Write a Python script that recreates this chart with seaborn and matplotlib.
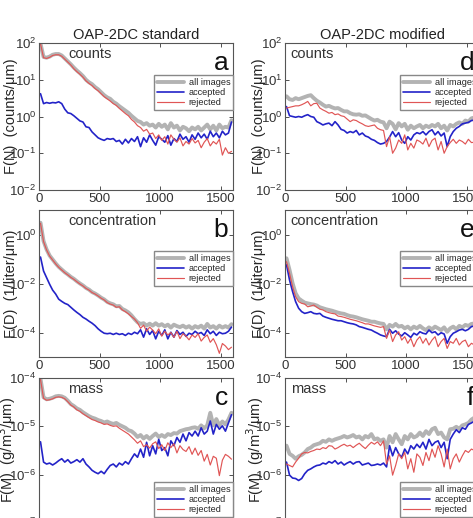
import numpy as np
import pandas as pd
import seaborn as sns
import matplotlib.pyplot as plt
from matplotlib.ticker import NullLocator

sns.set_theme(style="ticks")
plt.rcParams['font.family'] = ['Liberation Sans', 'DejaVu Sans']

# -----------------------------
# data (log10 of F), 25 um size bins
# -----------------------------
size_bins = np.arange(12.5, 1600, 25)

# a) counts, OAP-2DC standard
std_counts_all = [1.98, 1.62, 1.60, 1.63, 1.68, 1.70, 1.70, 1.66, 1.58, 1.50, 1.42, 1.33, 1.25, 1.18, 1.10, 1.00,
                  0.93, 0.88, 0.80, 0.74, 0.66, 0.58, 0.52, 0.48, 0.40, 0.35, 0.28, 0.22, 0.16, 0.10, 0.02, -0.05,
                  -0.12, -0.15, -0.22, -0.18, -0.25, -0.22, -0.30, -0.20, -0.28, -0.22, -0.35, -0.18, -0.30, -0.25,
                  -0.38, -0.28, -0.32, -0.40, -0.30, -0.35, -0.28, -0.38, -0.30, -0.22, -0.35, -0.25, -0.38, -0.22,
                  -0.32, -0.28, -0.30, -0.10]
std_counts_acc = [0.62, 0.35, 0.38, 0.36, 0.38, 0.37, 0.40, 0.35, 0.20, 0.10, 0.08, 0.02, -0.05, -0.12, -0.15, -0.28,
                  -0.30, -0.42, -0.50, -0.58, -0.62, -0.65, -0.60, -0.62, -0.60, -0.68, -0.65, -0.75, -0.62, -0.72,
                  -0.60, -0.68, -0.55, -0.82, -0.58, -0.70, -0.50, -0.65, -0.78, -0.55, -0.62, -0.70, -0.52, -0.78,
                  -0.60, -0.68, -0.48, -0.62, -0.55, -0.70, -0.50, -0.62, -0.45, -0.58, -0.48, -0.62, -0.40, -0.55,
                  -0.45, -0.58, -0.40, -0.50, -0.45, -0.15]
std_counts_rej = [1.98, 1.60, 1.58, 1.61, 1.66, 1.68, 1.68, 1.64, 1.56, 1.48, 1.40, 1.30, 1.22, 1.15, 1.07, 0.97,
                  0.90, 0.84, 0.76, 0.70, 0.62, 0.54, 0.48, 0.42, 0.35, 0.30, 0.22, 0.15, 0.08, 0.02, -0.08, -0.15,
                  -0.25, -0.30, -0.40, -0.35, -0.48, -0.45, -0.60, -0.50, -0.65, -0.55, -0.75, -0.50, -0.62, -0.70,
                  -0.58, -0.80, -0.68, -0.75, -0.60, -0.72, -0.65, -0.85, -0.70, -0.60, -0.80, -0.68, -0.75, -0.62,
                  -1.05, -0.85, -1.00, -0.95]

# d) counts, OAP-2DC modified
mod_counts_all = [0.55, 0.47, 0.45, 0.50, 0.47, 0.50, 0.53, 0.56, 0.58, 0.50, 0.43, 0.38, 0.32, 0.27, 0.29, 0.25,
                  0.22, 0.23, 0.18, 0.14, 0.14, 0.09, 0.06, 0.05, 0.06, 0.02, 0.03, -0.02, -0.07, -0.11, -0.09, -0.14,
                  -0.16, -0.32, -0.14, -0.20, -0.35, -0.18, -0.27, -0.20, -0.36, -0.25, -0.32, -0.27, -0.23, -0.32,
                  -0.25, -0.29, -0.23, -0.27, -0.20, -0.32, -0.25, -0.38, -0.23, -0.27, -0.20, -0.16, -0.20, -0.11,
                  -0.14, -0.05, -0.03, 0.00]
mod_counts_acc = [0.27, 0.02, 0.00, -0.02, 0.00, -0.02, 0.02, 0.05, 0.00, -0.02, -0.14, -0.18, -0.23, -0.20, -0.18,
                  -0.25, -0.14, -0.23, -0.35, -0.38, -0.45, -0.41, -0.44, -0.38, -0.50, -0.45, -0.53, -0.56, -0.62,
                  -0.65, -0.71, -0.75, -0.73, -0.68, -0.56, -0.41, -0.55, -0.44, -0.64, -0.73, -0.55, -0.64, -0.50,
                  -0.44, -0.47, -0.41, -0.50, -0.41, -0.36, -0.50, -0.41, -0.53, -0.45, -0.82, -0.55, -0.41, -0.32,
                  -0.27, -0.20, -0.18, -0.16, -0.11, -0.10, -0.08]
mod_counts_rej = [0.23, 0.25, 0.27, 0.29, 0.29, 0.32, 0.36, 0.41, 0.29, 0.35, 0.36, 0.23, 0.18, 0.14, 0.09, 0.11,
                  0.05, 0.07, 0.02, 0.00, -0.07, -0.14, -0.09, -0.11, -0.16, -0.20, -0.25, -0.27, -0.25, -0.23,
                  -0.32, -0.36, -0.38, -0.82, -0.55, -1.00, -0.86, -0.64, -0.73, -0.50, -0.91, -0.73, -0.86, -0.64,
                  -0.68, -0.75, -0.59, -0.82, -0.65, -0.59, -0.91, -0.68, -1.00, -0.82, -0.71, -0.62, -0.73, -0.64,
                  -0.68, -0.75, -0.62, -0.71, -0.70, -0.72]

# b) concentration, OAP-2DC standard
std_conc_all = [0.48, -0.27, -0.61, -0.86, -1.02, -1.18, -1.32, -1.43, -1.54, -1.63, -1.73, -1.81, -1.91, -2.00,
                -2.08, -2.18, -2.25, -2.35, -2.41, -2.49, -2.58, -2.65, -2.75, -2.81, -2.85, -2.93, -2.92, -3.04,
                -3.10, -3.18, -3.30, -3.45, -3.58, -3.65, -3.62, -3.72, -3.64, -3.72, -3.62, -3.72, -3.66, -3.75,
                -3.68, -3.80, -3.68, -3.74, -3.78, -3.72, -3.80, -3.74, -3.84, -3.74, -3.80, -3.72, -3.84, -3.65,
                -3.80, -3.74, -3.84, -3.72, -3.80, -3.74, -3.80, -3.66]
std_conc_acc = [-0.92, -1.49, -1.76, -2.03, -2.27, -2.43, -2.64, -2.73, -2.81, -2.86, -2.97, -3.08, -3.18, -3.27,
                -3.38, -3.45, -3.54, -3.62, -3.72, -3.85, -3.95, -4.03, -4.05, -4.03, -4.08, -4.03, -4.08, -4.05,
                -4.12, -4.03, -4.08, -3.99, -4.05, -3.89, -4.19, -3.85, -4.08, -3.92, -4.26, -3.95, -4.12, -3.89,
                -4.26, -3.99, -4.19, -3.92, -4.08, -3.99, -4.16, -4.03, -4.08, -3.95, -4.05, -4.00, -4.12, -3.89,
                -4.05, -3.95, -4.12, -3.99, -4.05, -4.03, -3.95, -3.78]
std_conc_rej = [0.46, -0.29, -0.63, -0.88, -1.04, -1.20, -1.34, -1.45, -1.56, -1.65, -1.75, -1.83, -1.93, -2.02,
                -2.10, -2.20, -2.27, -2.37, -2.43, -2.51, -2.60, -2.67, -2.78, -2.84, -2.88, -2.97, -2.95, -3.08,
                -3.15, -3.24, -3.35, -3.45, -3.60, -3.83, -3.70, -3.95, -3.78, -3.90, -4.05, -3.85, -4.15, -3.95,
                -4.10, -4.00, -4.20, -3.95, -4.25, -4.05, -4.15, -4.30, -4.10, -4.20, -4.05, -4.35, -4.20, -4.10,
                -4.40, -4.25, -4.50, -4.85, -4.45, -4.55, -4.70, -4.60]

# e) concentration, OAP-2DC modified
mod_conc_all = [-0.97, -1.45, -1.99, -2.40, -2.61, -2.70, -2.78, -2.81, -2.84, -2.86, -2.90, -2.97, -3.01, -3.05,
                -3.08, -3.11, -3.15, -3.19, -3.22, -3.24, -3.29, -3.33, -3.35, -3.38, -3.42, -3.46, -3.49, -3.52,
                -3.56, -3.56, -3.60, -3.63, -3.65, -3.87, -3.69, -3.76, -3.65, -3.76, -3.73, -3.83, -3.76, -3.87,
                -3.76, -3.83, -3.73, -3.83, -3.90, -3.79, -3.87, -3.76, -3.83, -3.90, -3.79, -3.97, -3.83, -3.76,
                -3.87, -3.73, -3.79, -3.69, -3.73, -3.65, -3.63, -3.60]
mod_conc_acc = [-1.24, -1.86, -2.33, -2.74, -3.01, -3.15, -3.22, -3.19, -3.15, -3.22, -3.24, -3.22, -3.33, -3.38,
                -3.42, -3.46, -3.49, -3.52, -3.52, -3.56, -3.60, -3.63, -3.65, -3.69, -3.76, -3.79, -3.83, -3.87,
                -3.90, -3.97, -4.03, -4.10, -4.14, -4.17, -3.87, -4.03, -3.93, -4.06, -4.14, -4.01, -4.10, -4.20,
                -4.03, -4.10, -3.97, -4.03, -4.06, -3.90, -4.01, -3.97, -4.10, -4.01, -4.06, -4.44, -4.17, -4.03,
                -3.97, -3.90, -3.87, -3.93, -3.87, -3.76, -3.73, -3.69]
mod_conc_rej = [-1.11, -1.59, -2.13, -2.54, -2.74, -2.81, -2.84, -2.95, -2.92, -2.88, -2.97, -3.05, -3.08, -3.15,
                -3.19, -3.22, -3.24, -3.33, -3.35, -3.38, -3.42, -3.46, -3.49, -3.52, -3.56, -3.60, -3.65, -3.65,
                -3.69, -3.73, -3.76, -3.79, -3.76, -4.24, -3.90, -4.37, -4.10, -3.97, -4.31, -4.17, -4.44, -4.24,
                -4.58, -4.31, -4.17, -4.44, -4.24, -4.51, -4.31, -4.17, -4.58, -4.37, -4.24, -4.65, -4.37, -4.44,
                -4.24, -4.51, -4.37, -4.31, -4.58, -4.44, -4.51, -4.44]

# c) mass, OAP-2DC standard
std_mass_all = [-4.02, -4.40, -4.44, -4.43, -4.41, -4.38, -4.37, -4.38, -4.41, -4.47, -4.54, -4.58, -4.63, -4.66,
                -4.71, -4.75, -4.79, -4.82, -4.84, -4.87, -4.89, -4.92, -4.90, -4.93, -4.95, -4.93, -4.97, -5.00,
                -5.03, -5.08, -5.10, -5.15, -5.22, -5.18, -5.25, -5.20, -5.26, -5.20, -5.15, -5.22, -5.18, -5.22,
                -5.16, -5.18, -5.14, -5.15, -5.10, -5.08, -5.06, -5.05, -5.03, -5.02, -5.05, -4.98, -5.04, -4.98,
                -4.72, -4.98, -4.85, -4.98, -4.90, -4.96, -4.86, -4.72]
std_mass_acc = [-5.32, -5.74, -5.78, -5.76, -5.80, -5.76, -5.71, -5.67, -5.74, -5.69, -5.76, -5.73, -5.69, -5.74,
                -5.67, -5.78, -5.84, -5.91, -5.95, -5.98, -5.93, -5.98, -5.89, -5.81, -5.78, -5.84, -5.76, -5.80,
                -5.73, -5.78, -5.67, -5.57, -5.64, -5.47, -5.64, -5.33, -5.61, -5.40, -5.57, -5.27, -5.50, -5.44,
                -5.61, -5.30, -5.40, -5.23, -5.33, -5.16, -5.30, -5.13, -5.20, -5.10, -5.20, -5.03, -5.16, -5.10,
                -4.89, -5.16, -4.96, -5.06, -4.99, -5.10, -4.93, -4.76]
std_mass_rej = [-4.03, -4.42, -4.46, -4.45, -4.43, -4.40, -4.39, -4.40, -4.43, -4.49, -4.56, -4.60, -4.66, -4.69,
                -4.74, -4.78, -4.82, -4.86, -4.88, -4.91, -4.93, -4.96, -4.95, -4.98, -5.00, -4.99, -5.04, -5.08,
                -5.12, -5.16, -5.22, -5.28, -5.35, -5.30, -5.42, -5.38, -5.45, -5.36, -5.32, -5.46, -5.38, -5.50,
                -5.34, -5.44, -5.36, -5.55, -5.40, -5.48, -5.52, -5.42, -5.58, -5.45, -5.60, -5.50, -5.72, -5.58,
                -5.80, -5.62, -5.66, -6.02, -5.70, -5.58, -5.62, -5.68]

# f) mass, OAP-2DC modified
mod_mass_all = [-5.40, -5.57, -5.61, -5.67, -5.62, -5.59, -5.54, -5.47, -5.44, -5.39, -5.37, -5.35, -5.30, -5.32,
                -5.27, -5.30, -5.27, -5.25, -5.23, -5.20, -5.23, -5.21, -5.18, -5.23, -5.21, -5.27, -5.20, -5.23,
                -5.16, -5.27, -5.25, -5.30, -5.27, -5.44, -5.20, -5.33, -5.16, -5.27, -5.37, -5.20, -5.27, -5.16,
                -5.23, -5.20, -5.13, -5.20, -5.10, -5.16, -5.06, -5.03, -5.16, -5.13, -5.23, -5.27, -5.06, -5.05,
                -5.01, -5.05, -4.98, -4.96, -4.93, -4.86, -4.82, -4.79]
mod_mass_acc = [-5.74, -6.01, -6.07, -6.08, -6.12, -6.08, -5.98, -5.91, -5.88, -5.84, -5.81, -5.80, -5.76, -5.78,
                -5.73, -5.76, -5.71, -5.78, -5.74, -5.80, -5.76, -5.73, -5.78, -5.74, -5.73, -5.80, -5.78, -5.76,
                -5.81, -5.80, -5.78, -5.80, -5.76, -5.84, -5.40, -5.61, -5.44, -5.57, -5.64, -5.47, -5.57, -5.40,
                -5.47, -5.37, -5.44, -5.33, -5.47, -5.27, -5.40, -5.33, -5.30, -5.44, -5.33, -5.67, -5.27, -5.16,
                -5.07, -5.13, -5.03, -5.06, -4.96, -4.93, -4.89, -4.86]
mod_mass_rej = [-5.78, -5.81, -5.84, -5.74, -5.66, -5.57, -5.54, -5.55, -5.52, -5.50, -5.47, -5.48, -5.44, -5.46,
                -5.40, -5.41, -5.47, -5.44, -5.40, -5.37, -5.41, -5.39, -5.44, -5.39, -5.35, -5.41, -5.46, -5.39,
                -5.33, -5.37, -5.32, -5.40, -5.30, -5.78, -5.61, -6.01, -5.81, -5.57, -5.67, -5.54, -5.88, -5.67,
                -5.95, -5.57, -5.64, -5.81, -5.54, -5.71, -5.47, -5.64, -5.40, -5.57, -5.84, -5.47, -5.88, -5.67,
                -5.57, -5.74, -5.61, -5.50, -5.54, -5.47, -5.50, -5.54]

series_names = ["all images", "accepted", "rejected"]
series_colors = ["#b3b3b3", "#2323c8", "#e05555"]
series_widths = [2.8, 1.2, 0.85]

# -----------------------------
# figure layout (pixels of a 473x518 picture)
# -----------------------------
fig = plt.figure(figsize=(4.73, 5.18), dpi=100)
W, H = 473, 518
col_left = [39, 285]
ax_w = 194
rows = [(43, 190), (210, 357), (378, 523)]

panels = [
    # col, row, letter, text, ylabel, ylim, yticks, data, legend top
    (0, 0, "a", "counts", "F(N)  (counts/\u03bcm)", (1e-2, 1e2), [1e-2, 1e-1, 1e0, 1e1, 1e2],
     (std_counts_all, std_counts_acc, std_counts_rej), 0.78),
    (1, 0, "d", "counts", "F(N)  (counts/\u03bcm)", (1e-2, 1e2), [1e-2, 1e-1, 1e0, 1e1, 1e2],
     (mod_counts_all, mod_counts_acc, mod_counts_rej), 0.78),
    (0, 1, "b", "concentration", "F(D)  (1/liter/\u03bcm)", (1e-5, 1e1), [1e-4, 1e-2, 1e0],
     (std_conc_all, std_conc_acc, std_conc_rej), 0.72),
    (1, 1, "e", "concentration", "F(D)  (1/liter/\u03bcm)", (1e-5, 1e1), [1e-4, 1e-2, 1e0],
     (mod_conc_all, mod_conc_acc, mod_conc_rej), 0.72),
    (0, 2, "c", "mass", "F(M)  (g/m$^3$/\u03bcm)", (1e-7, 1e-4), [1e-7, 1e-6, 1e-5, 1e-4],
     (std_mass_all, std_mass_acc, std_mass_rej), 0.28),
    (1, 2, "f", "mass", "F(M)  (g/m$^3$/\u03bcm)", (1e-7, 1e-4), [1e-7, 1e-6, 1e-5, 1e-4],
     (mod_mass_all, mod_mass_acc, mod_mass_rej), 0.28),
]

text_x = [0.15, 0.03]
label_x = [-0.108, -0.098]

for col, row, letter, word, ylab, ylim, yticks, data, leg_top in panels:
    top, bottom = rows[row]
    ax = fig.add_axes([col_left[col] / W, 1 - bottom / H, ax_w / W, (bottom - top) / H])

    for name, vals, c, lw in zip(series_names, data, series_colors, series_widths):
        df = pd.DataFrame({"size": size_bins, "F": 10 ** np.array(vals)})
        sns.lineplot(data=df, x="size", y="F", color=c, linewidth=lw, label=name, ax=ax)

    ax.set_yscale("log")
    ax.set_ylim(*ylim)
    ax.set_yticks(yticks)
    ax.yaxis.set_minor_locator(NullLocator())
    ax.set_xlim(0, 1600)
    ax.set_xticks([0, 500, 1000, 1500])
    ax.set_xlabel("")
    ax.set_ylabel(ylab, fontsize=10.5)
    ax.yaxis.set_label_coords(label_x[col], 0.5)
    ax.tick_params(direction="in", top=True, right=True, length=3, width=0.6,
                   labelsize=9.5, pad=2, colors="#333333")
    for sp in ax.spines.values():
        sp.set_color("#555555")
        sp.set_linewidth(0.8)

    ax.text(text_x[col], 0.975, word, transform=ax.transAxes, fontsize=10.5,
            va="top", ha="left", color="#333333")
    ax.text(0.975, 0.865, letter, transform=ax.transAxes, fontsize=19,
            va="center", ha="right", color="#111111")

    ax.legend(loc="upper right", bbox_to_anchor=(1.0, leg_top), fontsize=6.6,
              frameon=True, fancybox=False, edgecolor="#888888", framealpha=1,
              borderpad=0.3, handlelength=3.0, handletextpad=0.5,
              labelspacing=0.12, borderaxespad=0)

    if row == 0:
        ax.set_title("OAP-2DC standard" if col == 0 else "OAP-2DC modified",
                     fontsize=10.5, pad=3, color="#222222")

fig.savefig("out.png", dpi=100)
